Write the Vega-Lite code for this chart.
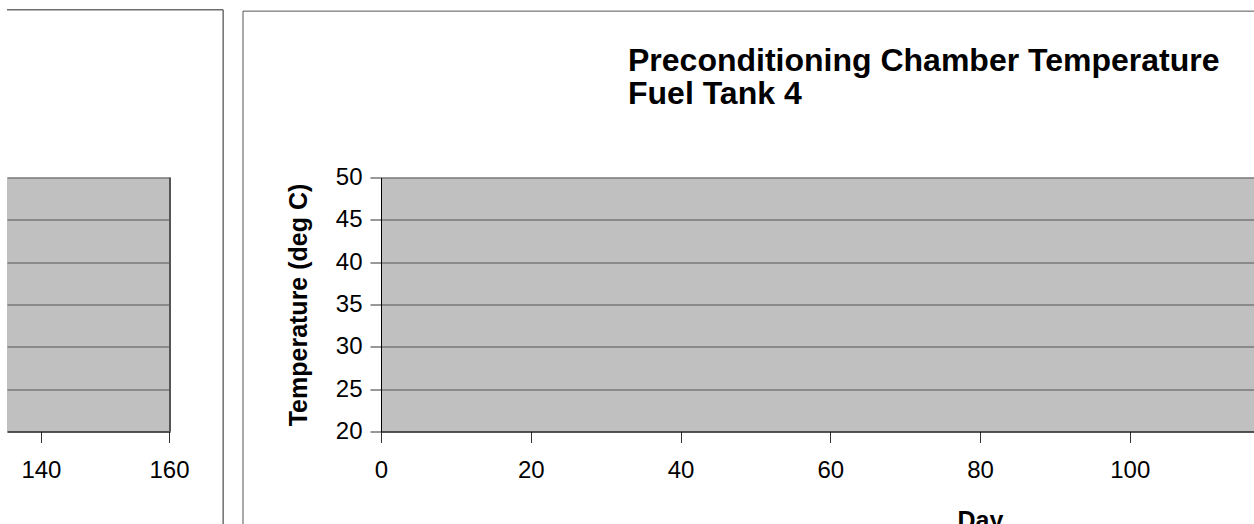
{
  "$schema": "https://vega.github.io/schema/vega-lite/v6.json",
  "background": "white",
  "padding": {"left": 6, "top": 8.5, "right": 0, "bottom": 0},
  "autosize": {"type": "pad"},
  "config": {
    "font": "Liberation Sans",
    "view": {"fill": "#c0c0c0", "stroke": null},
    "axis": {
      "labelFont": "Liberation Sans",
      "titleFont": "Liberation Sans",
      "labelColor": "black",
      "titleColor": "black",
      "labelFontSize": 24,
      "titleFontSize": 25,
      "titleFontWeight": "bold",
      "domainColor": "black",
      "domainWidth": 1,
      "tickColor": "#333333",
      "tickSize": 11,
      "gridColor": "#555555",
      "gridOpacity": 1,
      "labelFlush": false,
      "labelOverlap": false
    }
  },
  "bounds": "flush",
  "spacing": 211,
  "hconcat": [
    {
      "width": 163,
      "height": 254,
      "layer": [
        {
          "data": {"values": []},
          "mark": "point",
          "encoding": {
            "x": {"field": "Day", "type": "quantitative", "scale": {"domain": [134.7, 160.15], "nice": false, "zero": false}, "axis": {"values": [140, 160], "title": null, "grid": false, "labelPadding": 16}},
            "y": {"field": "Temperature", "type": "quantitative", "scale": {"domain": [20, 50], "nice": false, "zero": false}, "axis": {"values": [20, 25, 30, 35, 40, 45, 50], "labels": false, "ticks": false, "domain": false, "title": null, "grid": true}}
          }
        },
        {
          "data": {"values": [{}]},
          "mark": {"type": "rule", "clip": false, "color": "#555555", "strokeWidth": 2},
          "encoding": {"x": {"datum": 160.15}, "y": {"datum": 20}, "y2": {"datum": 50}}
        },
        {
          "data": {"values": [{}]},
          "mark": {"type": "rule", "clip": false, "color": "#6e6e6e", "strokeWidth": 1.5},
          "encoding": {"x": {"datum": 134.7}, "x2": {"datum": 168.45}, "y": {"datum": 69.8}}
        },
        {
          "data": {"values": [{}]},
          "mark": {"type": "rule", "clip": false, "color": "#6e6e6e", "strokeWidth": 1.5},
          "encoding": {"x": {"datum": 168.45}, "y": {"datum": 69.8}, "y2": {"datum": 5}}
        }
      ]
    },
    {
      "width": 1198,
      "height": 254,
      "title": {
        "text": ["Preconditioning Chamber Temperature", "Fuel Tank 4"],
        "anchor": "start",
        "frame": "group",
        "dx": 247,
        "offset": -100,
        "font": "Liberation Sans",
        "fontSize": 32,
        "fontWeight": "bold",
        "color": "black",
        "lineHeight": 33
      },
      "layer": [
        {
          "data": {"values": []},
          "mark": "point",
          "encoding": {
            "x": {"field": "Day", "type": "quantitative", "scale": {"domain": [0, 160], "nice": false, "zero": false}, "axis": {"values": [0, 20, 40, 60, 80, 100, 120, 140, 160], "title": "Day", "titlePadding": 26, "labelPadding": 16, "grid": false}},
            "y": {"field": "Temperature", "type": "quantitative", "scale": {"domain": [20, 50], "nice": false, "zero": false}, "axis": {"values": [20, 25, 30, 35, 40, 45, 50], "title": "Temperature (deg C)", "titlePadding": 24, "labelPadding": 8, "grid": true}}
          }
        },
        {
          "data": {"values": [{}]},
          "mark": {"type": "rule", "clip": false, "color": "#555555", "strokeWidth": 1},
          "encoding": {"x": {"datum": -18.43}, "y": {"datum": 69.65}, "y2": {"datum": 5}}
        },
        {
          "data": {"values": [{}]},
          "mark": {"type": "rule", "clip": false, "color": "#555555", "strokeWidth": 1},
          "encoding": {"x": {"datum": -18.43}, "x2": {"datum": 175}, "y": {"datum": 69.65}}
        }
      ]
    }
  ]
}
